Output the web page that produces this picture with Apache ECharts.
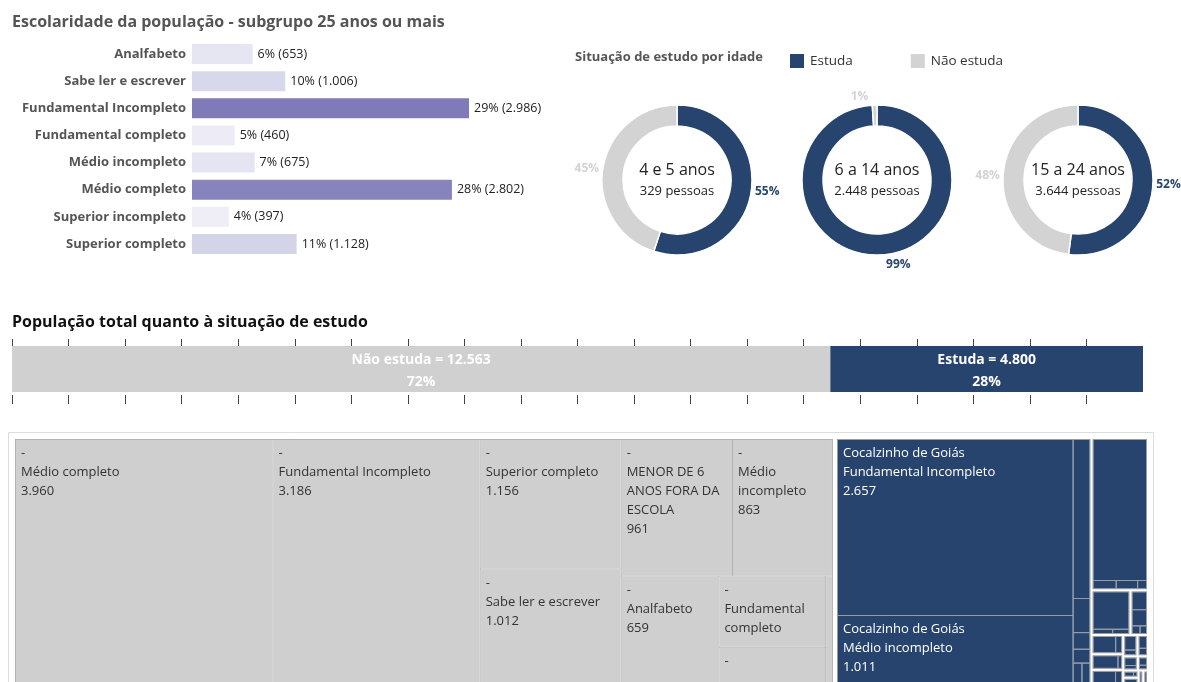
<!DOCTYPE html>
<html>
<head>
<meta charset="utf-8">
<script src="https://cdn.jsdelivr.net/npm/echarts@6/dist/echarts.min.js"></script>
<style>
  html, body { margin: 0; padding: 0; background: #fff; }
  #chart { width: 1181px; height: 682px; }
</style>
</head>
<body>
<div id="chart"></div>
<script>
// escolaridade, 25 anos ou mais
const escCategorias = ['Analfabeto', 'Sabe ler e escrever', 'Fundamental Incompleto', 'Fundamental completo',
  'Médio incompleto', 'Médio completo', 'Superior incompleto', 'Superior completo'];
const escValores = [653, 1006, 2986, 460, 675, 2802, 397, 1128];
const escPct = [6, 10, 29, 5, 7, 28, 4, 11];

// situação de estudo por idade
const idadeFaixas = ['4 e 5 anos', '6 a 14 anos', '15 a 24 anos'];
const idadePessoas = [329, 2448, 3644];
const idadeEstudaPct = [55, 99, 52];
const idadeNaoEstudaPct = [45, 1, 48];

// população total
const situacoes = ['Não estuda', 'Estuda'];
const situacaoTotal = [12563, 4800];
const situacaoPct = [72, 28];
const tickPct = [0, 5, 10, 15, 20, 25, 30, 35, 40, 45, 50, 55, 60, 65, 70, 75, 80, 85, 90, 95];

// treemap - não estuda
const naoEstudaLocal = '-';
const naoEstudaNiveis = ['Médio completo', 'Fundamental Incompleto', 'Superior completo', 'Sabe ler e escrever',
  'MENOR DE 6 ANOS FORA DA ESCOLA', 'Médio incompleto', 'Analfabeto', 'Fundamental completo',
  'Superior incompleto', 'Sem informação'];
const naoEstudaValores = [3960, 3186, 1156, 1012, 961, 863, 659, 482, 238, 46];

// treemap - estuda (local de estudo -> nível)
const estudaLocais = ['Cocalzinho de Goiás', 'Outro local 1', 'Outro local 2', 'Outro local 3', 'Outro local 4',
  'Outro local 5', 'Outro local 6', 'Outro local 7', 'Outro local 8', 'Outro local 9', 'Outro local 10',
  'Outro local 11', 'Outro local 12', 'Outro local 13', 'Outro local 14'];
const estudaNiveis = [
  ['Fundamental Incompleto', 'Médio incompleto', 'Superior incompleto', 'Sabe ler e escrever',
   'Fundamental completo', 'Médio completo', 'Analfabeto', 'Superior completo'],
  ['Superior incompleto', 'Médio incompleto', 'Fundamental Incompleto', 'Médio completo'],
  ['Superior incompleto', 'Médio incompleto', 'Fundamental Incompleto'],
  ['Superior incompleto', 'Médio incompleto', 'Fundamental Incompleto', 'Médio completo'],
  ['Superior incompleto', 'Médio incompleto'],
  ['Superior incompleto', 'Médio incompleto'],
  ['Superior incompleto', 'Médio incompleto'],
  ['Superior incompleto', 'Médio incompleto'],
  ['Superior incompleto', 'Médio incompleto'],
  ['Superior incompleto', 'Médio incompleto'],
  ['Superior incompleto', 'Médio incompleto'],
  ['Superior incompleto'],
  ['Superior incompleto', 'Médio incompleto'],
  ['Superior incompleto'],
  ['Superior incompleto']
];
const estudaValores = [
  [2657, 1011, 172, 37, 18, 15, 11, 10],
  [508, 13, 12, 5],
  [98, 6, 5],
  [21, 19, 5, 4],
  [30, 8],
  [27, 4],
  [22, 6],
  [14, 5],
  [9, 5],
  [9, 4],
  [6, 3],
  [6],
  [5, 2],
  [4],
  [4]
];

const AZUL = '#27446e';
const CINZA = '#d0d0d0';
const FONTE = '"Open Sans", "Noto Sans", sans-serif';

function fmt(v) {
  return String(v).replace(/\B(?=(\d{3})+(?!\d))/g, '.');
}

const totalPop = situacaoTotal[0] + situacaoTotal[1];

// dados do treemap
const treeData = [
  {
    name: situacoes[0],
    itemStyle: { borderWidth: 0, gapWidth: 0, borderColor: '#fff' },
    children: [{
      name: naoEstudaLocal,
      itemStyle: { borderWidth: 1, gapWidth: 1, borderColor: '#b2b2b2' },
      children: naoEstudaNiveis.map((n, i) => ({
        name: n,
        value: naoEstudaValores[i],
        itemStyle: { color: '#cfcfcf', borderWidth: 0 },
        label: { show: naoEstudaValores[i] >= 100, color: '#333' }
      }))
    }]
  },
  {
    name: situacoes[1],
    itemStyle: { borderWidth: 0, gapWidth: 2, borderColor: '#fff' },
    children: estudaLocais.map((loc, j) => ({
      name: loc,
      itemStyle: { borderWidth: 1, gapWidth: 1, borderColor: '#9c9c9c' },
      children: estudaNiveis[j].map((n, i) => ({
        name: n,
        value: estudaValores[j][i],
        itemStyle: { color: AZUL, borderWidth: 0 },
        label: { show: j === 0 && estudaValores[j][i] >= 500, color: '#fff' }
      }))
    }))
  }
];

// donuts
const pieCentros = [[677, 180], [877, 180], [1078, 180]];
const RAIO = [54, 75];

// coloca o rótulo logo fora do anel, na direção do meio da fatia
function rotuloFora(i) {
  return function (params) {
    const c = pieCentros[i];
    const r = params.labelRect;
    const lx = r.x + r.width / 2, ly = r.y + r.height / 2;
    const dx = lx - c[0], dy = ly - c[1];
    const d = Math.hypot(dx, dy) || 1;
    const ux = dx / d, uy = dy / d;
    const t = RAIO[1] + 3 + Math.abs(ux) * r.width / 2 + Math.abs(uy) * r.height / 2;
    return { x: c[0] + ux * t, y: c[1] + uy * t, align: 'center', verticalAlign: 'middle' };
  };
}

const pieSeries = idadeFaixas.map((f, i) => ({
  type: 'pie',
  name: f,
  center: pieCentros[i],
  radius: RAIO,
  startAngle: 90,
  clockwise: true,
  silent: true,
  avoidLabelOverlap: false,
  itemStyle: { borderColor: '#fff', borderWidth: 1.5 },
  label: {
    show: true,
    position: 'outside',
    formatter: '{c}%',
    color: 'inherit',
    fontWeight: 'bold',
    fontSize: 12,
    fontFamily: FONTE
  },
  labelLine: { show: false, length: 3, length2: 0 },
  labelLayout: rotuloFora(i),
  data: [
    { name: situacoes[1], value: idadeEstudaPct[i], itemStyle: { color: AZUL } },
    { name: situacoes[0], value: idadeNaoEstudaPct[i], itemStyle: { color: '#d3d3d3' } }
  ]
}));

const centroTextos = [];
idadeFaixas.forEach((f, i) => {
  centroTextos.push({
    type: 'text',
    x: pieCentros[i][0], y: pieCentros[i][1] - 10,
    style: { text: f, align: 'center', verticalAlign: 'middle', fontSize: 16, fill: '#222', fontFamily: FONTE }
  });
  centroTextos.push({
    type: 'text',
    x: pieCentros[i][0], y: pieCentros[i][1] + 11,
    style: { text: fmt(idadePessoas[i]) + ' pessoas', align: 'center', verticalAlign: 'middle', fontSize: 13, fill: '#222', fontFamily: FONTE }
  });
});

const chart = echarts.init(document.getElementById('chart'));
chart.setOption({
  animation: false,
  textStyle: { fontFamily: FONTE },
  title: [
    {
      text: 'Escolaridade da população - subgrupo 25 anos ou mais',
      left: 12, top: 14, padding: 0,
      textStyle: { fontSize: 16, fontWeight: 'bold', color: '#555', fontFamily: FONTE }
    },
    {
      text: 'Situação de estudo por idade',
      left: 575, top: 51, padding: 0,
      textStyle: { fontSize: 13, fontWeight: 'bold', color: '#555', fontFamily: FONTE }
    },
    {
      text: 'População total quanto à situação de estudo',
      left: 12, top: 314, padding: 0,
      textStyle: { fontSize: 16, fontWeight: 'bold', color: '#111', fontFamily: FONTE }
    }
  ],
  legend: {
    data: [situacoes[1], situacoes[0]],
    left: 788, top: 52, padding: 0,
    icon: 'rect', itemWidth: 16, itemHeight: 16, itemGap: 56,
    selectedMode: false,
    textStyle: { fontSize: 13.5, color: '#333', fontFamily: FONTE }
  },
  visualMap: {
    type: 'continuous',
    show: false,
    seriesIndex: 0,
    dimension: 0,
    min: Math.min(...escValores),
    max: Math.max(...escValores),
    inRange: { color: ['#efeef7', '#cfcfe7', '#a3a0cd', '#7f7bb8'] }
  },
  grid: [
    { left: 192, top: 40.5, width: 278.3, height: 217 },
    { left: 12, top: 346, width: 1131, height: 46 }
  ],
  xAxis: [
    { gridIndex: 0, type: 'value', min: 0, max: 3000, show: false },
    {
      gridIndex: 1, type: 'value', min: 0, max: 100, position: 'top',
      axisLine: { show: false }, axisLabel: { show: false }, splitLine: { show: false },
      axisTick: { show: true, length: 7, customValues: tickPct, lineStyle: { color: '#444', width: 1 } }
    },
    {
      gridIndex: 1, type: 'value', min: 0, max: 100, position: 'bottom', offset: 3,
      axisLine: { show: false }, axisLabel: { show: false }, splitLine: { show: false },
      axisTick: { show: true, length: 9, customValues: tickPct, lineStyle: { color: '#444', width: 1 } }
    }
  ],
  yAxis: [
    {
      gridIndex: 0, type: 'category', data: escCategorias, inverse: true,
      axisLine: { show: false }, axisTick: { show: false },
      axisLabel: { fontSize: 13, fontWeight: 'bold', color: '#555', margin: 6, fontFamily: FONTE }
    },
    { gridIndex: 1, type: 'category', data: ['Total'], show: false }
  ],
  series: [
    {
      type: 'bar',
      xAxisIndex: 0, yAxisIndex: 0,
      barWidth: 20,
      silent: true,
      data: escValores,
      label: {
        show: true, position: 'right', distance: 5,
        color: '#222', fontSize: 12.5, fontFamily: FONTE,
        formatter: p => escPct[p.dataIndex] + '% (' + fmt(p.value) + ')'
      }
    },
    ...situacoes.map((s, i) => ({
      type: 'bar',
      name: s + ' total',
      xAxisIndex: 1, yAxisIndex: 1,
      stack: 'pop',
      barWidth: 46,
      silent: true,
      itemStyle: { color: i === 0 ? CINZA : AZUL },
      data: [situacaoTotal[i] / totalPop * 100],
      label: {
        show: true, position: 'inside', offset: [0, 2],
        color: '#fff', fontWeight: 'bold', fontSize: 14, lineHeight: 22, fontFamily: FONTE,
        formatter: () => s + ' = ' + fmt(situacaoTotal[i]) + '\n' + situacaoPct[i] + '%'
      }
    })),
    ...pieSeries,
    {
      type: 'treemap',
      left: 15, top: 439, width: 1132, height: 244,
      roam: false, nodeClick: false,
      breadcrumb: { show: false },
      silent: true,
      squareRatio: 0.5 * (1 + Math.sqrt(5)),
      levels: [
        { itemStyle: { borderWidth: 0, gapWidth: 4, borderColor: '#fff' } }
      ],
      label: {
        show: true,
        position: 'insideTopLeft',
        padding: [4, 5, 0, 5],
        fontSize: 13,
        lineHeight: 19,
        fontFamily: FONTE,
        overflow: 'break',
        formatter: p => {
          const path = p.treePathInfo;
          const local = path.length > 2 ? path[2].name : '';
          return local + '\n' + p.name + '\n' + fmt(p.value);
        }
      },
      upperLabel: { show: false },
      data: treeData
    }
  ],
  graphic: [
    {
      type: 'rect', z: -10,
      shape: { x: 8.5, y: 432.5, width: 1145, height: 260 },
      style: { fill: '#fff', stroke: '#dcdcdc', lineWidth: 1 }
    },
    ...centroTextos
  ]
});
</script>
</body>
</html>
